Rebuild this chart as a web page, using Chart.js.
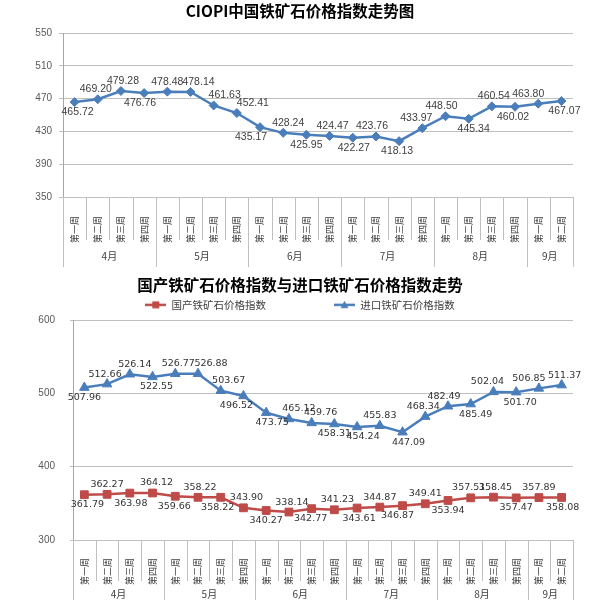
<!DOCTYPE html>
<html>
<head>
<meta charset="utf-8">
<script src="https://cdn.jsdelivr.net/npm/chart.js@4.4.0/dist/chart.umd.min.js"></script>
<style>
  html, body { margin: 0; padding: 0; background: #fff; }
  #c1 { position: absolute; left: 0; top: 0; }
  #c2 { position: absolute; left: 0; top: 270px; }
</style>
</head>
<body>
<canvas id="c1" width="600" height="270"></canvas>
<canvas id="c2" width="600" height="343"></canvas>
<script>
// categories
const weeks = [
  '第一周', '第二周', '第三周', '第四周',
  '第一周', '第二周', '第三周', '第四周',
  '第一周', '第二周', '第三周', '第四周',
  '第一周', '第二周', '第三周', '第四周',
  '第一周', '第二周', '第三周', '第四周',
  '第一周', '第二周'
];
const months = ['4月', '5月', '6月', '7月', '8月', '9月'];
const monthWeeks = [4, 4, 4, 4, 4, 2];

// series
const ciopi = [465.72, 469.20, 479.28, 476.76, 478.48, 478.14, 461.63, 452.41, 435.17, 428.24, 425.95,
  424.47, 422.27, 423.76, 418.13, 433.97, 448.50, 445.34, 460.54, 460.02, 463.80, 467.07];
const domestic = [361.79, 362.27, 363.98, 364.12, 359.66, 358.22, 358.22, 343.90, 340.27, 338.14, 342.77,
  341.23, 343.61, 344.87, 346.87, 349.41, 353.94, 357.51, 358.45, 357.47, 357.89, 358.08];
const imported = [507.96, 512.66, 526.14, 522.55, 526.77, 526.88, 503.67, 496.52, 473.75, 465.12, 459.76,
  458.31, 454.24, 455.83, 447.09, 468.34, 482.49, 485.49, 502.04, 501.70, 506.85, 511.37];

// y ticks
const ticks1 = { min: 350, max: 550, step: 40 };
const ticks2 = { min: 300, max: 600, step: 100 };

// where each value label sits: a = above, b = below, plus a small sideways nudge
const ciopiSide = 'baabaaaababababaababab'.split('');
const ciopiDx = [3, -2, 2, -4, 0, 8, 11, 16, -9, 5, 0, 3, 1, -4, -2, -6, -4, 5, 2, -2, -10, 3];
const importedSide = 'baabaaabbaabbabaababaa'.split('');
const importedDx = [0, -2, 5, 4, 3, 13, 8, -7, 6, 10, 9, 0, 6, 0, 6, -2, -4, 5, -6, 4, -10, 3];
const domesticSide = 'bababababababababaabab'.split('');
const domesticDx = [3, 0, 1, 4, -1, 2, -3, 3, 0, 3, -1, 3, 2, 0, -5, 0, 0, -2, 2, 0, 0, 1];

const BLUE = '#4a7ebb';
const RED = '#be4b48';
const CJK = '"Noto Sans CJK SC", sans-serif';

// value labels above / below the points
const pointLabels = {
  id: 'pointLabels',
  afterDatasetsDraw(chart, args, opts) {
    const ctx = chart.ctx;
    ctx.save();
    ctx.font = opts.font;
    ctx.fillStyle = opts.color;
    ctx.textAlign = 'center';
    ctx.textBaseline = 'middle';
    chart.data.datasets.forEach((ds, di) => {
      chart.getDatasetMeta(di).data.forEach((pt, i) => {
        const dy = ds.labelSide[i] === 'a' ? -opts.gap : opts.gap;
        ctx.fillText(ds.data[i].toFixed(2), pt.x + ds.labelDx[i], pt.y + dy);
      });
    });
    ctx.restore();
  }
};

// week separators and month row under the x axis
const groupAxis = {
  id: 'groupAxis',
  afterDraw(chart, args, opts) {
    const { ctx, chartArea } = chart;
    const x = chart.scales.x;
    const b = chartArea.bottom;
    const ends = [0];
    monthWeeks.forEach(n => ends.push(ends[ends.length - 1] + n));
    ctx.save();
    ctx.strokeStyle = '#c0c0c0';
    ctx.lineWidth = 1;
    for (let i = 0; i <= weeks.length; i++) {
      const px = Math.round(x.getPixelForValue(i - 0.5)) + 0.5;
      const len = ends.includes(i) ? opts.monthLine : opts.weekLine;
      ctx.beginPath();
      ctx.moveTo(px, b);
      ctx.lineTo(px, b + len);
      ctx.stroke();
    }
    ctx.fillStyle = '#404040';
    ctx.font = '10px ' + CJK;
    ctx.textAlign = 'center';
    ctx.textBaseline = 'middle';
    months.forEach((m, j) => {
      const cx = (x.getPixelForValue(ends[j] - 0.5) + x.getPixelForValue(ends[j + 1] - 0.5)) / 2;
      ctx.fillText(m, cx, b + opts.monthY);
    });
    ctx.restore();
  }
};

function xScale(pad) {
  return {
    offset: true,
    grid: { display: false },
    border: { display: false },
    ticks: {
      autoSkip: false, minRotation: 90, maxRotation: 90, padding: pad,
      color: '#404040', font: { size: 9, family: CJK }
    },
    afterFit(s) { s.height = 73; }
  };
}

function yScale(t, width, pad, tl) {
  return {
    min: t.min, max: t.max,
    ticks: { stepSize: t.step, padding: pad, color: '#595959', font: { size: 10, family: 'Liberation Sans' } },
    grid: { color: '#c0c0c0', tickLength: tl },
    border: { color: '#a6a6a6' },
    afterFit(s) { s.width = width; }
  };
}

// empty right axis so the plot ends at 573 while titles stay centred
const spacer = {
  type: 'linear', position: 'right',
  grid: { display: false }, border: { display: false }, ticks: { display: false },
  afterFit(s) { s.width = 27; }
};

function legendIcon(color, style, r) {
  const c = document.createElement('canvas');
  c.width = 21; c.height = 12;
  const g = c.getContext('2d');
  g.strokeStyle = color; g.lineWidth = 2.5;
  g.beginPath(); g.moveTo(0, 6); g.lineTo(21, 6); g.stroke();
  g.fillStyle = color;
  g.beginPath();
  if (style === 'rect') g.rect(10.5 - r, 6 - r, 2 * r, 2 * r);
  else { g.moveTo(10.5, 6 - r); g.lineTo(10.5 + r, 6 + r * 0.8); g.lineTo(10.5 - r, 6 + r * 0.8); g.closePath(); }
  g.fill();
  return c;
}

new Chart(document.getElementById('c1'), {
  type: 'line',
  data: {
    labels: weeks,
    datasets: [{
      data: ciopi, labelSide: ciopiSide, labelDx: ciopiDx,
      borderColor: BLUE, backgroundColor: BLUE, borderWidth: 2.5, tension: 0,
      pointStyle: 'rectRot', pointRadius: 4.5, pointBorderWidth: 1, clip: false
    }]
  },
  options: {
    responsive: false, animation: false,
    layout: { padding: 0 },
    plugins: {
      legend: { display: false },
      tooltip: { enabled: false },
      title: {
        display: true, text: 'CIOPI中国铁矿石价格指数走势图', color: '#000',
        font: { family: CJK, size: 15.5, weight: 'bold' }, padding: { top: 2, bottom: 12.4 }
      },
      pointLabels: { font: '10.5px "Liberation Sans"', gap: 10, color: '#404040' },
      groupAxis: { weekLine: 43, monthLine: 70, monthY: 59 }
    },
    scales: { x: xScale(11), y: yScale(ticks1, 63, 7, 4), y2: spacer }
  },
  plugins: [pointLabels, groupAxis]
});

new Chart(document.getElementById('c2'), {
  type: 'line',
  data: {
    labels: weeks,
    datasets: [{
      label: '国产铁矿石价格指数', data: domestic, labelSide: domesticSide, labelDx: domesticDx,
      borderColor: RED, backgroundColor: RED, borderWidth: 2.5, tension: 0,
      pointStyle: 'rect', pointRadius: 5.5, pointBorderWidth: 1, clip: false,
      icon: legendIcon(RED, 'rect', 3.5)
    }, {
      label: '进口铁矿石价格指数', data: imported, labelSide: importedSide, labelDx: importedDx,
      borderColor: BLUE, backgroundColor: BLUE, borderWidth: 2.5, tension: 0,
      pointStyle: 'triangle', pointRadius: 5.5, pointBorderWidth: 1, clip: false,
      icon: legendIcon(BLUE, 'tri', 4)
    }]
  },
  options: {
    responsive: false, animation: false,
    layout: { padding: 0 },
    plugins: {
      tooltip: { enabled: false },
      title: {
        display: true, text: '国产铁矿石价格指数与进口铁矿石价格指数走势', color: '#000',
        font: { family: CJK, size: 15.5, weight: 'bold' }, padding: { top: 6, bottom: 0 }
      },
      legend: {
        labels: {
          usePointStyle: true, pointStyleWidth: 21, padding: 5,
          color: '#404040', font: { family: CJK, size: 10.5 },
          generateLabels(chart) {
            return chart.data.datasets.map((ds, i) => ({
              // ideographic spaces keep the wide gap between the two entries
              text: i === 0 ? ds.label + '\u3000\u3000\u3000\u3000\u3000\u3000' : ds.label,
              pointStyle: ds.icon, fillStyle: ds.borderColor, strokeStyle: ds.borderColor,
              lineWidth: 0, hidden: false, datasetIndex: i, fontColor: '#404040'
            }));
          }
        }
      },
      pointLabels: { font: '9.5px "DejaVu Sans"', gap: 10, color: '#333' },
      groupAxis: { weekLine: 41, monthLine: 60, monthY: 54 }
    },
    scales: { x: xScale(10), y: yScale(ticks2, 73, 15, 3), y2: spacer }
  },
  plugins: [pointLabels, groupAxis]
});
</script>
</body>
</html>
